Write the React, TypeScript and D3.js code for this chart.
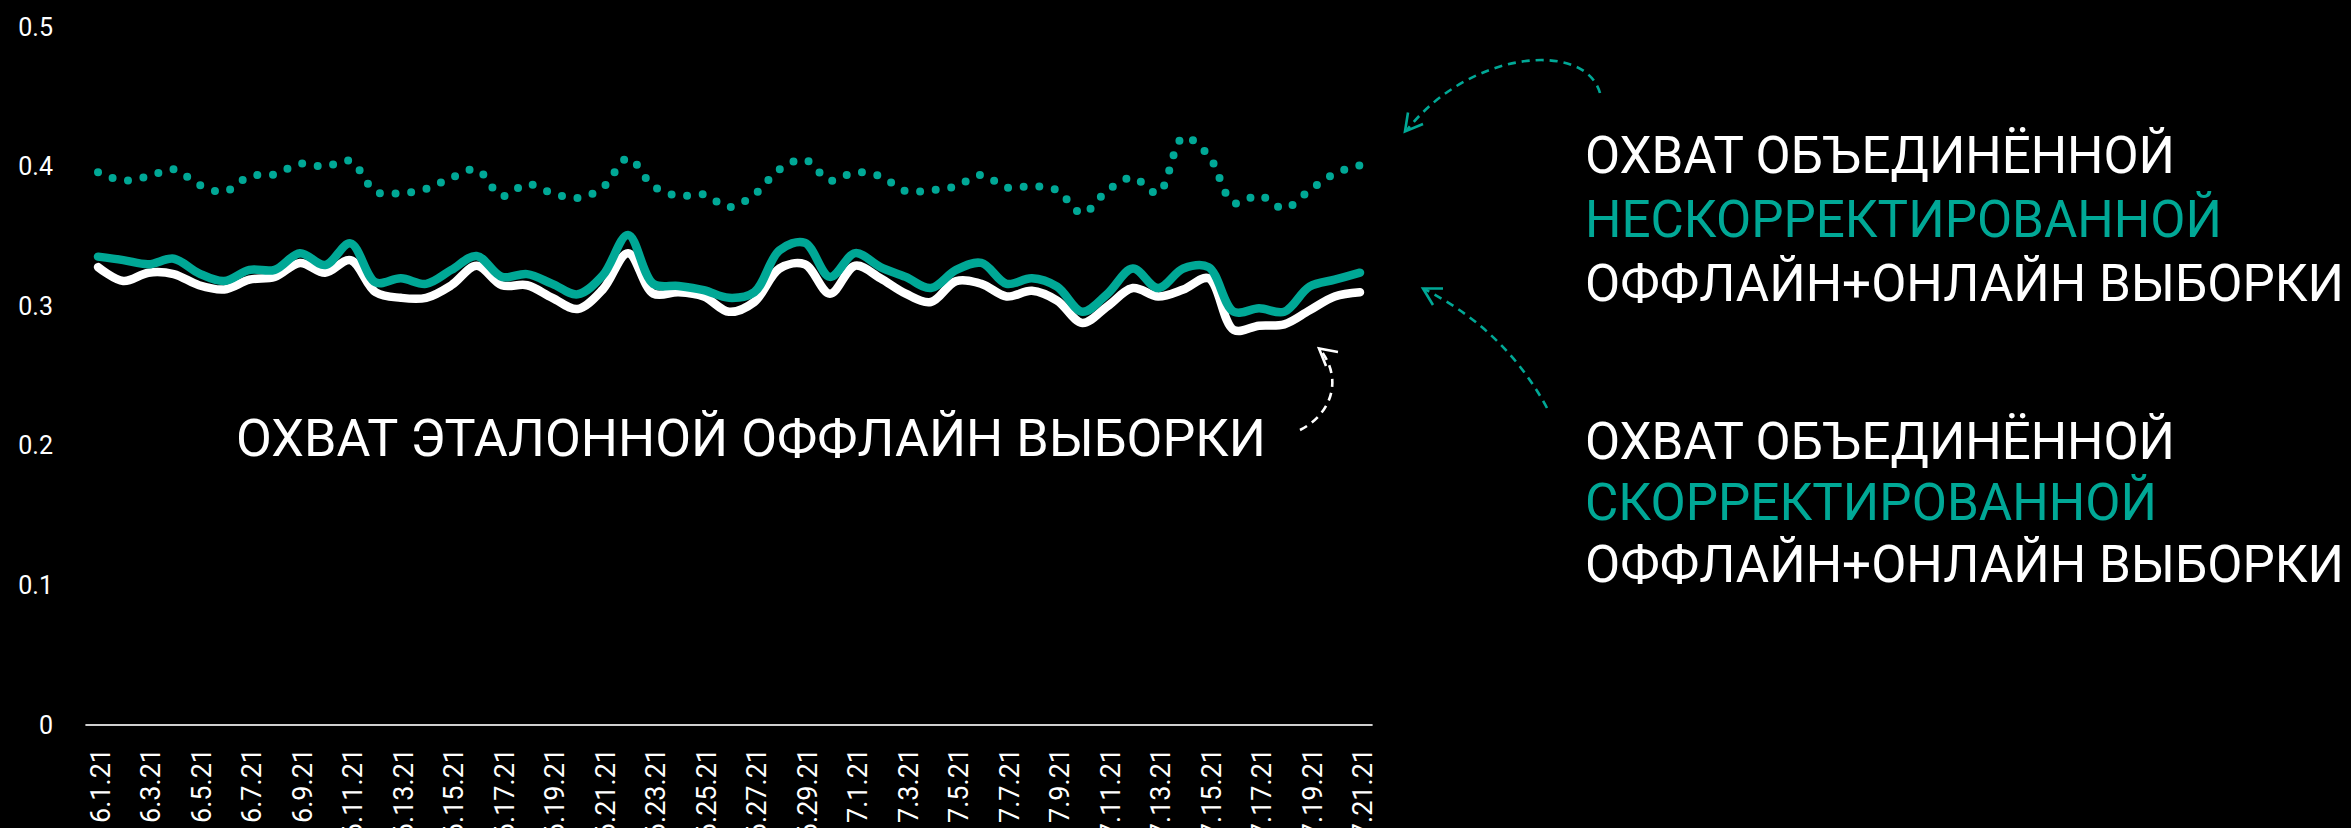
import React from "react";
import * as d3 from "d3";

const W = 2351;
const H = 828;

const xTickLabels = [
  "6.1.21", "6.3.21", "6.5.21", "6.7.21", "6.9.21", "6.11.21", "6.13.21", "6.15.21",
  "6.17.21", "6.19.21", "6.21.21", "6.23.21", "6.25.21", "6.27.21", "6.29.21", "7.1.21",
  "7.3.21", "7.5.21", "7.7.21", "7.9.21", "7.11.21", "7.13.21", "7.15.21", "7.17.21",
  "7.19.21", "7.21.21",
];
const yTicks = [0, 0.1, 0.2, 0.3, 0.4, 0.5];
const yTickLabels = ["0", "0.1", "0.2", "0.3", "0.4", "0.5"];

// Reach of the reference offline sample (white)
const reference = [
  0.328, 0.318, 0.324, 0.323, 0.315, 0.312, 0.319, 0.321, 0.331, 0.324,
  0.333, 0.31, 0.306, 0.306, 0.315, 0.329, 0.315, 0.315, 0.306, 0.298,
  0.312, 0.338, 0.309, 0.31, 0.307, 0.296, 0.303, 0.327, 0.33, 0.309,
  0.329, 0.32, 0.309, 0.303, 0.318, 0.316, 0.307, 0.311, 0.304, 0.288,
  0.3, 0.313, 0.307, 0.312, 0.32, 0.283, 0.286, 0.287, 0.297, 0.307, 0.31,
];
// Reach of combined corrected sample (teal solid)
const corrected = [
  0.3355, 0.333, 0.33, 0.334, 0.3235, 0.318, 0.326, 0.326, 0.338, 0.3295,
  0.345, 0.317, 0.32, 0.316, 0.326, 0.336, 0.321, 0.323, 0.316, 0.3085,
  0.322, 0.351, 0.316, 0.3145, 0.3115, 0.306, 0.31, 0.34, 0.3455, 0.321,
  0.338, 0.328, 0.321, 0.313, 0.326, 0.331, 0.316, 0.32, 0.314, 0.296,
  0.309, 0.327, 0.313, 0.327, 0.328, 0.296, 0.2985, 0.296, 0.314, 0.319, 0.324,
];
// Reach of combined uncorrected sample (teal dotted)
const uncorrected = [
  0.396, 0.39, 0.393, 0.398, 0.387, 0.382, 0.393, 0.3945, 0.402, 0.4,
  0.404, 0.382, 0.381, 0.384, 0.392, 0.398, 0.379, 0.3875, 0.381, 0.3775,
  0.385, 0.406, 0.386, 0.379, 0.38, 0.371, 0.38, 0.398, 0.405, 0.39,
  0.396, 0.393, 0.3825, 0.383, 0.386, 0.394, 0.385, 0.386, 0.383, 0.3665,
  0.383, 0.392, 0.381, 0.421, 0.408, 0.374, 0.3794, 0.37, 0.383, 0.395, 0.401,
];

const TEAL = "#00A896";
const FONT = "Roboto, 'Noto Sans', Arial, sans-serif";

export default function App() {
  const idx = d3.range(reference.length);
  const xb = d3.scaleBand<number>().domain(idx).range([85.4, 1372.6]);
  const x = (i: number) => (xb(i) as number) + xb.bandwidth() / 2;
  const y = d3.scaleLinear().domain([0, 0.5]).range([725, 27]);

  const line = d3
    .line<number>()
    .x((_, i) => x(i))
    .y((d) => y(d))
    .curve(d3.curveCatmullRom.alpha(0.5));

  const [r0, r1] = xb.range();

  return (
    <svg
      width={W}
      height={H}
      style={{ position: "absolute", left: 0, top: 0, display: "block", background: "#000" }}
      fontFamily={FONT}
    >
      <rect x={0} y={0} width={W} height={H} fill="#000" />

      {/* y tick labels */}
      {yTicks.map((t, k) => (
        <text
          key={k}
          x={53}
          y={y(t)}
          fill="#fff"
          fontSize={25}
          textAnchor="end"
          dominantBaseline="central"
        >
          {yTickLabels[k]}
        </text>
      ))}

      {/* x axis line */}
      <line x1={r0} x2={r1} y1={y(0)} y2={y(0)} stroke="#cfcfcf" strokeWidth={2} />

      {/* x tick labels */}
      {xTickLabels.map((lab, k) => (
        <text
          key={lab}
          transform={`translate(${x(k * 2) + 3},748) rotate(-90)`}
          fill="#fff"
          fontSize={27}
          textAnchor="end"
          dominantBaseline="central"
        >
          {lab}
        </text>
      ))}

      {/* series */}
      <path
        d={line(uncorrected) || ""}
        fill="none"
        stroke={TEAL}
        strokeWidth={8}
        strokeLinecap="round"
        strokeDasharray="0 15.7"
      />
      <path
        d={line(reference) || ""}
        fill="none"
        stroke="#fff"
        strokeWidth={8.5}
        strokeLinecap="round"
        strokeLinejoin="round"
      />
      <path
        d={line(corrected) || ""}
        fill="none"
        stroke={TEAL}
        strokeWidth={8.5}
        strokeLinecap="round"
        strokeLinejoin="round"
      />

      {/* left label */}
      <text
        x={236}
        y={456}
        fill="#fff"
        fontSize={52}
        textLength={1030}
        lengthAdjust="spacingAndGlyphs"
      >
        ОХВАТ ЭТАЛОННОЙ ОФФЛАЙН ВЫБОРКИ
      </text>

      {/* right labels */}
      <g fontSize={51}>
        <text x={1585} y={173} fill="#fff" textLength={590} lengthAdjust="spacingAndGlyphs">
          ОХВАТ ОБЪЕДИНЁННОЙ
        </text>
        <text x={1585} y={237} fill={TEAL} textLength={637} lengthAdjust="spacingAndGlyphs">
          НЕСКОРРЕКТИРОВАННОЙ
        </text>
        <text x={1585} y={301} fill="#fff" textLength={759} lengthAdjust="spacingAndGlyphs">
          ОФФЛАЙН+ОНЛАЙН ВЫБОРКИ
        </text>
        <text x={1585} y={459} fill="#fff" textLength={590} lengthAdjust="spacingAndGlyphs">
          ОХВАТ ОБЪЕДИНЁННОЙ
        </text>
        <text x={1585} y={520} fill={TEAL} textLength={572} lengthAdjust="spacingAndGlyphs">
          СКОРРЕКТИРОВАННОЙ
        </text>
        <text x={1585} y={582} fill="#fff" textLength={759} lengthAdjust="spacingAndGlyphs">
          ОФФЛАЙН+ОНЛАЙН ВЫБОРКИ
        </text>
      </g>

      {/* arrows */}
      <g fill="none" strokeWidth={2.6} strokeLinecap="butt">
        <path d="M1600,93 C1585,40 1470,50 1407,130" stroke={TEAL} strokeDasharray="8 6" />
        <path d="M1423,124 L1405,131.5 L1408,112.5" stroke={TEAL} />
        <path d="M1547,408 Q1505,330 1424,289" stroke={TEAL} strokeDasharray="8 6" />
        <path d="M1443,288.5 L1423,288.5 L1433,305" stroke={TEAL} />
        <path d="M1300,430 C1330,415 1345,380 1319,348" stroke="#fff" strokeDasharray="8 6" />
        <path d="M1338,352 L1319,348.5 L1326,366" stroke="#fff" />
      </g>
    </svg>
  );
}
